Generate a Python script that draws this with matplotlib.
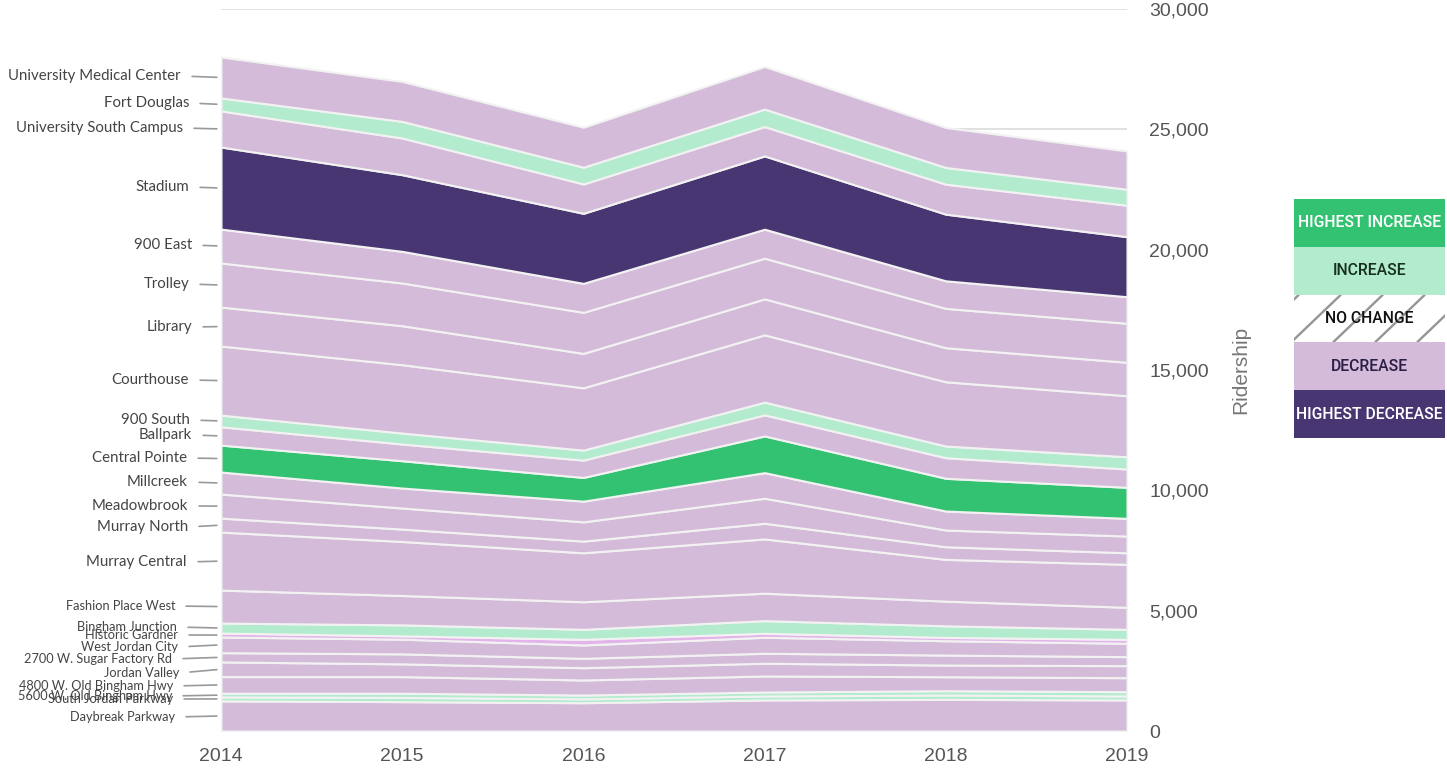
import matplotlib
matplotlib.use("Agg")
import matplotlib.pyplot as plt
from matplotlib.patches import Rectangle
from matplotlib.ticker import FuncFormatter

# stations, bottom of the stack first
stations = ['Daybreak Parkway', 'South Jordan Parkway', '5600 W. Old Bingham Hwy',
            '4800 W. Old Bingham Hwy', 'Jordan Valley', '2700 W. Sugar Factory Rd',
            'West Jordan City', 'Historic Gardner', 'Bingham Junction',
            'Fashion Place West', 'Murray Central', 'Murray North', 'Meadowbrook',
            'Millcreek', 'Central Pointe', 'Ballpark', '900 South', 'Courthouse',
            'Library', 'Trolley', '900 East', 'Stadium', 'University South Campus',
            'Fort Douglas', 'University Medical Center']

years = [2014, 2015, 2016, 2017, 2018, 2019]

r2014 = [1250, 165, 155, 690, 610, 385, 650, 165, 415, 1370, 2410, 580, 1000,
         915, 1120, 760, 485, 2870, 1620, 1830, 1410, 3410, 1500, 540, 1700]
r2015 = [1220, 175, 175, 690, 530, 415, 610, 140, 455, 1220, 2245, 515, 875,
         830, 1135, 695, 455, 2840, 1620, 1775, 1315, 3185, 1525, 690, 1660]
r2016 = [1175, 160, 160, 625, 510, 390, 555, 235, 415, 1145, 2035, 485, 800,
         860, 985, 720, 415, 2590, 1430, 1705, 1205, 2910, 1220, 695, 1660]
r2017 = [1290, 165, 165, 665, 530, 415, 665, 165, 525, 1140, 2255, 650, 1040,
         1065, 1525, 875, 530, 2795, 1495, 1690, 1205, 3045, 1220, 725, 1770]
r2018 = [1315, 180, 180, 580, 485, 415, 595, 140, 480, 1025, 1735, 525, 695,
         790, 1360, 855, 485, 2670, 1415, 1635, 1145, 2770, 1245, 695, 1660]
r2019 = [1290, 165, 180, 580, 500, 375, 555, 165, 415, 915, 1785, 480, 695,
         735, 1290, 760, 510, 2535, 1390, 1620, 1105, 2495, 1305, 665, 1590]

change = ['dec', 'inc', 'inc', 'dec', 'dec', 'dec', 'dec', 'pink', 'inc',
          'dec', 'dec', 'dec', 'dec', 'dec', 'hinc', 'dec', 'inc', 'dec',
          'dec', 'dec', 'dec', 'hdec', 'dec', 'inc', 'dec']

legend_labels = ['HIGHEST INCREASE', 'INCREASE', 'NO CHANGE', 'DECREASE', 'HIGHEST DECREASE']

colors = {'hinc': '#33c172', 'inc': '#b3ebcf', 'dec': '#d3bbd9',
          'hdec': '#483672', 'pink': '#e2b4ea'}

# label placement (image pixels: right edge of text, vertical centre)
label_x = [175, 173, 172, 173, 179, 172, 178, 178, 177, 175, 187, 188, 188,
           188, 187, 192, 190, 189, 192, 189, 192, 189, 183, 189, 181]
label_y = [717, 699, 696, 686, 673, 659, 647, 635, 627, 606, 562, 527, 506,
           482, 458, 435, 420, 380, 327, 284, 245, 187, 128, 103, 76]

W, H = 1447, 768
fig = plt.figure(figsize=(W / 100, H / 100), dpi=100)
ax = fig.add_axes([221 / W, (H - 731) / H, (1127 - 221) / W, 722 / H])

series = [list(v) for v in zip(r2014, r2015, r2016, r2017, r2018, r2019)]
ax.stackplot(years, *series, colors=[colors[c] for c in change],
             edgecolor='#f2f2f2', linewidth=1.5, zorder=2)

ax.set_xlim(2014, 2019)
ax.set_ylim(0, 30000)
ax.set_yticks([0, 5000, 10000, 15000, 20000, 25000, 30000])
ax.yaxis.set_major_formatter(FuncFormatter(lambda v, p: f'{int(v):,}'))
ax.yaxis.tick_right()
ax.yaxis.set_label_position('right')
ax.grid(axis='y', color='#dcdcdc', linewidth=1.2, zorder=0)
ax.set_axisbelow(True)
for s in ax.spines.values():
    s.set_visible(False)
ax.tick_params(length=0, labelsize=14, labelcolor='#555555')
ax.tick_params(axis='y', pad=16)
ax.tick_params(axis='x', pad=12)
for t in ax.get_xticklabels() + ax.get_yticklabels():
    t.set_family('Liberation Sans')
ax.set_ylabel('Ridership', fontsize=15, color='#777777', family='Liberation Sans',
              labelpad=16)

# station labels with leader lines
bottom = 0
for i, name in enumerate(stations):
    mid = bottom + r2014[i] / 2
    bottom += r2014[i]
    size = 10.8 if i >= 10 else 9.2
    ax.annotate(name, xy=(2014, mid), xycoords='data',
                xytext=(label_x[i], H - label_y[i]), textcoords='figure pixels',
                ha='right', va='center', fontsize=size, color='#444444',
                family='Lato', annotation_clip=False,
                arrowprops=dict(arrowstyle='-', color='#999999', lw=1.2,
                                shrinkA=6, shrinkB=3,
                                relpos=(1.0, 0.5)))

# legend block, drawn in pixel units
lw_, lh_ = 151, 239
lax = fig.add_axes([1294 / W, (H - 438) / H, lw_ / W, lh_ / H])
lax.set_xlim(0, lw_)
lax.set_ylim(0, lh_)
lax.axis('off')
row = lh_ / 5
leg_fill = ['#33c172', '#b3ebcf', 'white', '#d3bbd9', '#483672']
leg_text = ['white', '#17301f', '#111111', '#2b1f45', 'white']
for k, lab in enumerate(legend_labels):
    y0 = lh_ - (k + 1) * row
    box = Rectangle((0, y0), lw_, row, facecolor=leg_fill[k], linewidth=0)
    lax.add_patch(box)
    if lab == 'NO CHANGE':
        for x0 in range(-45, lw_ + 10, 42):
            ln, = lax.plot([x0, x0 + 50], [y0, y0 + row], color='#959595', lw=1.7,
                           solid_capstyle='butt')
            ln.set_clip_path(box)
    lax.text(lw_ / 2, y0 + row / 2, lab, ha='center', va='center',
             fontsize=11.3, color=leg_text[k], family='Roboto', weight='medium')

fig.savefig('out.png', dpi=100)
